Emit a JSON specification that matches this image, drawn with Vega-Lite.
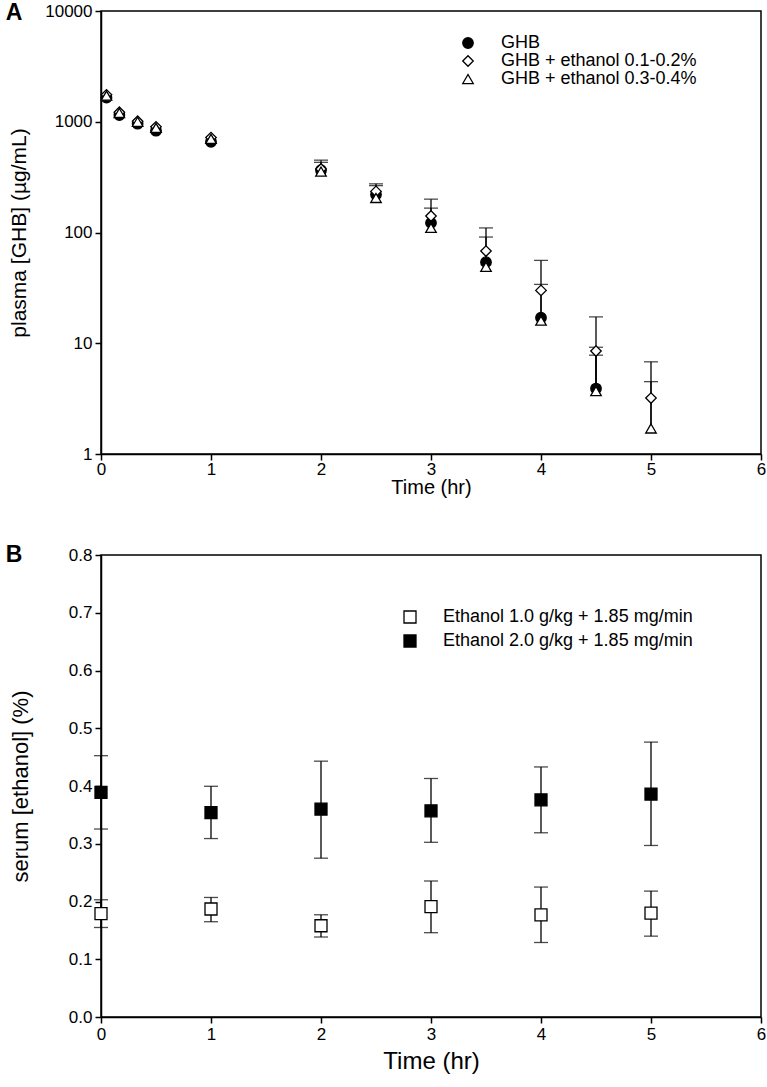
{
  "$schema": "https://vega.github.io/schema/vega-lite/v6.json",
  "background": "white",
  "padding": {"left": 5, "top": 1, "right": 5, "bottom": 5},
  "config": {
    "font": "Liberation Sans",
    "view": {"stroke": "black", "strokeWidth": 1.5},
    "axis": {
      "grid": false, "domainColor": "black", "domainWidth": 1.5,
      "tickColor": "black", "tickWidth": 1.5, "tickSize": 6,
      "labelColor": "black", "titleColor": "black", "labelFontSize": 17,
      "titleFontWeight": "normal", "labelFlush": false, "labelOverlap": false,
      "labelPadding": 3, "labelFont": "Liberation Sans", "titleFont": "Liberation Sans"
    },
    "legend": {
      "labelFont": "Liberation Sans", "labelColor": "black", "labelLimit": 0,
      "symbolStrokeColor": "black", "symbolStrokeWidth": 1.3,
      "padding": 0, "rowPadding": 0, "labelOffset": 24
    }
  },
  "resolve": {
    "scale": {"fill": "independent", "shape": "independent", "stroke": "independent"}
  },
  "datasets": {
    "ghb": [
      {"time": 0.05, "group": "GHB", "value": 1650},
      {"time": 0.167, "group": "GHB", "value": 1150},
      {"time": 0.333, "group": "GHB", "value": 960},
      {"time": 0.5, "group": "GHB", "value": 830},
      {"time": 1, "group": "GHB", "value": 660},
      {"time": 2, "group": "GHB", "value": 365},
      {"time": 2.5, "group": "GHB", "value": 220},
      {"time": 3, "group": "GHB", "value": 122},
      {"time": 3.5, "group": "GHB", "value": 54},
      {"time": 4, "group": "GHB", "value": 17},
      {"time": 4.5, "group": "GHB", "value": 3.9},
      {"time": 0.05, "group": "GHB + ethanol 0.1-0.2%", "value": 1750},
      {"time": 0.167, "group": "GHB + ethanol 0.1-0.2%", "value": 1220},
      {"time": 0.333, "group": "GHB + ethanol 0.1-0.2%", "value": 1010},
      {"time": 0.5, "group": "GHB + ethanol 0.1-0.2%", "value": 900},
      {"time": 1, "group": "GHB + ethanol 0.1-0.2%", "value": 720},
      {"time": 2, "group": "GHB + ethanol 0.1-0.2%", "value": 375},
      {"time": 2.5, "group": "GHB + ethanol 0.1-0.2%", "value": 235},
      {"time": 3, "group": "GHB + ethanol 0.1-0.2%", "value": 141},
      {"time": 3.5, "group": "GHB + ethanol 0.1-0.2%", "value": 68},
      {"time": 4, "group": "GHB + ethanol 0.1-0.2%", "value": 30},
      {"time": 4.5, "group": "GHB + ethanol 0.1-0.2%", "value": 8.5},
      {"time": 5, "group": "GHB + ethanol 0.1-0.2%", "value": 3.2},
      {"time": 0.05, "group": "GHB + ethanol 0.3-0.4%", "value": 1720},
      {"time": 0.167, "group": "GHB + ethanol 0.3-0.4%", "value": 1200},
      {"time": 0.333, "group": "GHB + ethanol 0.3-0.4%", "value": 1000},
      {"time": 0.5, "group": "GHB + ethanol 0.3-0.4%", "value": 880},
      {"time": 1, "group": "GHB + ethanol 0.3-0.4%", "value": 700},
      {"time": 2, "group": "GHB + ethanol 0.3-0.4%", "value": 355},
      {"time": 2.5, "group": "GHB + ethanol 0.3-0.4%", "value": 205},
      {"time": 3, "group": "GHB + ethanol 0.3-0.4%", "value": 110},
      {"time": 3.5, "group": "GHB + ethanol 0.3-0.4%", "value": 49},
      {"time": 4, "group": "GHB + ethanol 0.3-0.4%", "value": 16},
      {"time": 4.5, "group": "GHB + ethanol 0.3-0.4%", "value": 3.7},
      {"time": 5, "group": "GHB + ethanol 0.3-0.4%", "value": 1.7}
    ],
    "ghbErr": [
      {"time": 2, "group": "GHB", "lo": 365, "hi": 430},
      {"time": 2.5, "group": "GHB", "lo": 220, "hi": 265},
      {"time": 3, "group": "GHB", "lo": 122, "hi": 166},
      {"time": 3.5, "group": "GHB", "lo": 54, "hi": 91},
      {"time": 4, "group": "GHB", "lo": 17, "hi": 34},
      {"time": 4.5, "group": "GHB", "lo": 3.9, "hi": 9.2},
      {"time": 2, "group": "GHB + ethanol 0.1-0.2%", "lo": 375, "hi": 450},
      {"time": 2.5, "group": "GHB + ethanol 0.1-0.2%", "lo": 235, "hi": 275},
      {"time": 3, "group": "GHB + ethanol 0.1-0.2%", "lo": 141, "hi": 200},
      {"time": 3.5, "group": "GHB + ethanol 0.1-0.2%", "lo": 68, "hi": 110},
      {"time": 4, "group": "GHB + ethanol 0.1-0.2%", "lo": 17, "hi": 56},
      {"time": 4.5, "group": "GHB + ethanol 0.1-0.2%", "lo": 3.9, "hi": 17.3},
      {"time": 5, "group": "GHB + ethanol 0.1-0.2%", "lo": 1.7, "hi": 6.8},
      {"time": 4.5, "group": "GHB + ethanol 0.3-0.4%", "lo": 3.7, "hi": 7.8},
      {"time": 5, "group": "GHB + ethanol 0.3-0.4%", "lo": 1.7, "hi": 4.5}
    ],
    "eth": [
      {"time": 0, "group": "Ethanol 1.0 g/kg + 1.85 mg/min", "value": 0.179, "lo": 0.155, "hi": 0.203},
      {"time": 1, "group": "Ethanol 1.0 g/kg + 1.85 mg/min", "value": 0.187, "lo": 0.165, "hi": 0.207},
      {"time": 2, "group": "Ethanol 1.0 g/kg + 1.85 mg/min", "value": 0.158, "lo": 0.1385, "hi": 0.177},
      {"time": 3, "group": "Ethanol 1.0 g/kg + 1.85 mg/min", "value": 0.191, "lo": 0.146, "hi": 0.2355},
      {"time": 4, "group": "Ethanol 1.0 g/kg + 1.85 mg/min", "value": 0.177, "lo": 0.129, "hi": 0.225},
      {"time": 5, "group": "Ethanol 1.0 g/kg + 1.85 mg/min", "value": 0.18, "lo": 0.14, "hi": 0.218},
      {"time": 0, "group": "Ethanol 2.0 g/kg + 1.85 mg/min", "value": 0.389, "lo": 0.3255, "hi": 0.4525},
      {"time": 1, "group": "Ethanol 2.0 g/kg + 1.85 mg/min", "value": 0.354, "lo": 0.309, "hi": 0.3995},
      {"time": 2, "group": "Ethanol 2.0 g/kg + 1.85 mg/min", "value": 0.36, "lo": 0.275, "hi": 0.443},
      {"time": 3, "group": "Ethanol 2.0 g/kg + 1.85 mg/min", "value": 0.357, "lo": 0.3025, "hi": 0.413},
      {"time": 4, "group": "Ethanol 2.0 g/kg + 1.85 mg/min", "value": 0.376, "lo": 0.319, "hi": 0.433},
      {"time": 5, "group": "Ethanol 2.0 g/kg + 1.85 mg/min", "value": 0.386, "lo": 0.297, "hi": 0.476}
    ]
  },
  "bounds": "flush",
  "spacing": 101,
  "vconcat": [
    {
      "width": 660,
      "height": 443,
      "layer": [
        {
          "data": {"name": "ghbErr"},
          "mark": {"type": "rule", "color": "black", "strokeWidth": 1.3},
          "encoding": {
            "x": {"field": "time", "type": "quantitative", "scale": {"domain": [0, 6]},
                  "axis": {"values": [0, 1, 2, 3, 4, 5, 6], "format": "d", "title": "Time (hr)", "titleFontSize": 20, "labelPadding": 1, "titlePadding": 0}},
            "y": {"field": "lo", "type": "quantitative", "scale": {"type": "log", "domain": [1, 10000]},
                  "axis": {"values": [1, 10, 100, 1000, 10000], "format": "d", "title": "plasma [GHB] (µg/mL)", "titleFontSize": 21, "titlePadding": 15}},
            "y2": {"field": "hi"}
          }
        },
        {
          "data": {"name": "ghbErr"},
          "mark": {"type": "tick", "orient": "horizontal", "size": 14, "thickness": 1.3, "color": "black"},
          "encoding": {
            "x": {"field": "time", "type": "quantitative"},
            "y": {"field": "hi", "type": "quantitative"}
          }
        },
        {
          "data": {"name": "ghb"},
          "mark": {"type": "point", "filled": true, "size": 110, "strokeWidth": 1.3, "opacity": 1},
          "encoding": {
            "x": {"field": "time", "type": "quantitative"},
            "y": {"field": "value", "type": "quantitative"},
            "shape": {"field": "group", "type": "nominal",
                      "scale": {"domain": ["GHB", "GHB + ethanol 0.1-0.2%", "GHB + ethanol 0.3-0.4%"], "range": ["circle", "diamond", "triangle-up"]},
                      "legend": {"title": null, "orient": "none", "legendX": 358, "legendY": 23, "labelFontSize": 18, "symbolSize": 110}},
            "fill": {"field": "group", "type": "nominal",
                     "scale": {"domain": ["GHB", "GHB + ethanol 0.1-0.2%", "GHB + ethanol 0.3-0.4%"], "range": ["black", "white", "white"]},
                     "legend": {"title": null, "orient": "none", "legendX": 358, "legendY": 23, "labelFontSize": 18, "symbolSize": 110}},
            "stroke": {"field": "group", "type": "nominal",
                       "scale": {"domain": ["GHB", "GHB + ethanol 0.1-0.2%", "GHB + ethanol 0.3-0.4%"], "range": ["black", "black", "black"]},
                       "legend": {"title": null, "orient": "none", "legendX": 358, "legendY": 23, "labelFontSize": 18, "symbolSize": 110}}
          }
        },
        {
          "data": {"values": [{"label": "A"}]},
          "mark": {"type": "text", "fontSize": 23, "fontWeight": "bold", "align": "center", "baseline": "middle", "color": "black"},
          "encoding": {
            "x": {"datum": -0.79},
            "y": {"datum": 9500},
            "text": {"field": "label"}
          }
        }
      ]
    },
    {
      "width": 660,
      "height": 462,
      "layer": [
        {
          "data": {"name": "eth"},
          "mark": {"type": "rule", "color": "black", "strokeWidth": 1.3},
          "encoding": {
            "x": {"field": "time", "type": "quantitative", "scale": {"domain": [0, 6]},
                  "axis": {"values": [0, 1, 2, 3, 4, 5, 6], "format": "d", "title": "Time (hr)", "titleFontSize": 24, "titlePadding": 7}},
            "y": {"field": "lo", "type": "quantitative", "scale": {"domain": [0, 0.8]},
                  "axis": {"values": [0, 0.1, 0.2, 0.3, 0.4, 0.5, 0.6, 0.7, 0.8], "format": ".1f", "title": "serum [ethanol] (%)", "titleFontSize": 22, "titlePadding": 36}},
            "y2": {"field": "hi"}
          }
        },
        {
          "data": {"name": "eth"},
          "mark": {"type": "tick", "orient": "horizontal", "size": 14, "thickness": 1.3, "color": "black"},
          "encoding": {
            "x": {"field": "time", "type": "quantitative"},
            "y": {"field": "hi", "type": "quantitative"}
          }
        },
        {
          "data": {"name": "eth"},
          "mark": {"type": "tick", "orient": "horizontal", "size": 14, "thickness": 1.3, "color": "black"},
          "encoding": {
            "x": {"field": "time", "type": "quantitative"},
            "y": {"field": "lo", "type": "quantitative"}
          }
        },
        {
          "data": {"name": "eth"},
          "mark": {"type": "point", "filled": true, "shape": "square", "size": 144, "stroke": "black", "strokeWidth": 1.3, "opacity": 1},
          "encoding": {
            "x": {"field": "time", "type": "quantitative"},
            "y": {"field": "value", "type": "quantitative"},
            "fill": {"field": "group", "type": "nominal",
                     "scale": {"domain": ["Ethanol 1.0 g/kg + 1.85 mg/min", "Ethanol 2.0 g/kg + 1.85 mg/min"], "range": ["white", "black"]},
                     "legend": {"title": null, "orient": "none", "legendX": 300, "legendY": 53, "labelFontSize": 18, "symbolSize": 144, "symbolType": "square", "rowPadding": 6,
                                "encode": {"symbols": {"update": {"stroke": {"value": "black"}, "strokeWidth": {"value": 1.3}}}}}}
          }
        },
        {
          "data": {"values": [{"label": "B"}]},
          "mark": {"type": "text", "fontSize": 23, "fontWeight": "bold", "align": "center", "baseline": "middle", "color": "black"},
          "encoding": {
            "x": {"datum": -0.79},
            "y": {"datum": 0.8},
            "text": {"field": "label"}
          }
        }
      ]
    }
  ]
}
